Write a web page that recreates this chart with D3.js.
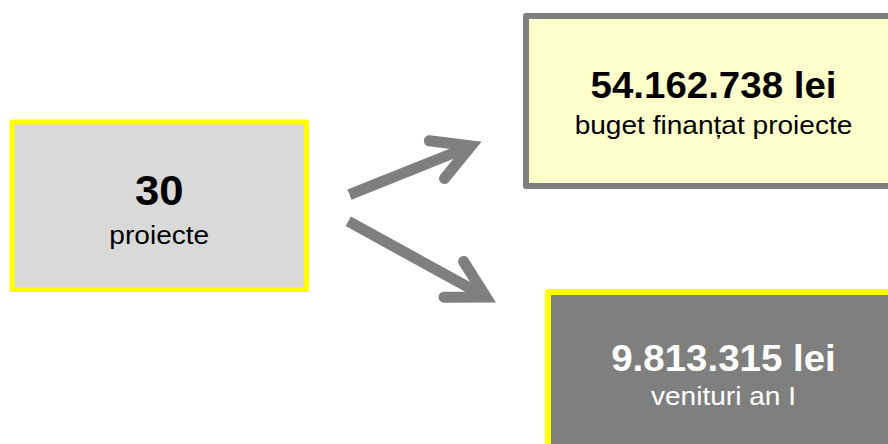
<!DOCTYPE html>
<html><head><meta charset="utf-8">
<script src="https://cdn.jsdelivr.net/npm/d3@7"></script>
<style>html,body{margin:0;padding:0;background:#fff;}svg{display:block;}</style>
</head><body>
<svg id="chart" width="888" height="444"></svg>
<script>
// Data
const values = ["30", "54.162.738 lei", "9.813.315 lei"];
const labels = ["proiecte", "buget finanțat proiecte", "venituri an I"];
const fills = ["#d9d9d9", "#ffffcc", "#7f7f7f"];
const borders = ["#ffff00", "#7f7f7f", "#ffff00"];
const textColors = ["#000000", "#000000", "#ffffff"];

// Layout
const boxes = [
  {x: 12, y: 122, w: 294.5, h: 167.5, sw: 5, vs: 42, ls: 26, vy: 83, ly: 122},
  {x: 526, y: 16, w: 375, h: 170, sw: 6, vs: 37, ls: 26, vy: 82, ly: 118},
  {x: 548, y: 292, w: 351, h: 170, sw: 6, vs: 37, ls: 26, vy: 79, ly: 113}
];
const arrows = [
  {x1: 349.5, y1: 194.7, x2: 471, y2: 146},
  {x1: 348.3, y1: 221.3, x2: 486, y2: 297}
];

const svg = d3.select("#chart");
const font = "'Liberation Sans', Arial, Helvetica, sans-serif";

const g = svg.selectAll("g.box").data(boxes).join("g").attr("class", "box");
g.append("rect")
  .attr("x", d => d.x).attr("y", d => d.y)
  .attr("width", d => d.w).attr("height", d => d.h)
  .attr("fill", (d, i) => fills[i])
  .attr("stroke", (d, i) => borders[i])
  .attr("stroke-width", d => d.sw)
  .attr("stroke-linejoin", "round");

g.append("text")
  .attr("transform", d => `translate(${d.x + d.w / 2},${d.y + d.vy}) scale(1.04,1)`)
  .attr("text-anchor", "middle")
  .attr("font-family", font).attr("font-weight", "bold")
  .attr("font-size", d => d.vs)
  .attr("fill", (d, i) => textColors[i])
  .text((d, i) => values[i]);

g.append("text")
  .attr("transform", d => `translate(${d.x + d.w / 2},${d.y + d.ly}) scale(1.08,1)`)
  .attr("text-anchor", "middle")
  .attr("font-family", font)
  .attr("font-size", d => d.ls)
  .attr("fill", (d, i) => textColors[i])
  .text((d, i) => labels[i]);

// Arrows
const headLen = 42, headAng = 29 * Math.PI / 180, aw = 11;
const ag = svg.append("g").attr("fill", "none").attr("stroke", "#7f7f7f").attr("stroke-width", aw);
arrows.forEach(a => {
  const ang = Math.atan2(a.y1 - a.y2, a.x1 - a.x2);
  const p = t => [a.x2 + headLen * Math.cos(ang + t), a.y2 + headLen * Math.sin(ang + t)];
  const b1 = p(headAng), b2 = p(-headAng);
  ag.append("line").attr("x1", a.x1).attr("y1", a.y1).attr("x2", a.x2).attr("y2", a.y2)
    .attr("stroke-linecap", "butt");
  ag.append("path").attr("d", d3.line()([b1, [a.x2, a.y2], b2]))
    .attr("stroke-linecap", "round").attr("stroke-linejoin", "miter").attr("stroke-miterlimit", 10);
});
</script>
</body></html>
